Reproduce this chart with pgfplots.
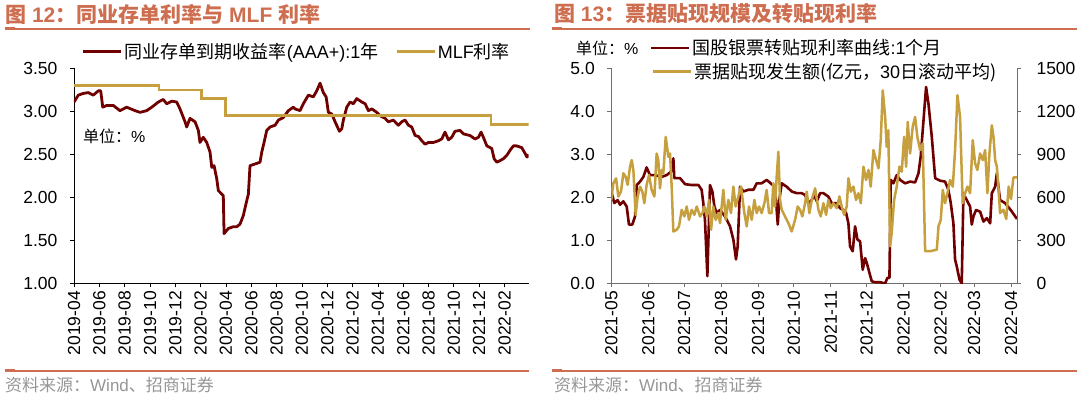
\documentclass[border=0pt]{standalone}
\usepackage{pgfplots}
\pgfplotsset{compat=1.18}
\usepackage{fontspec}
\setmainfont{Liberation Sans}
\newfontfamily\cjk{Noto Sans CJK SC}
\definecolor{dred}{RGB}{112,0,0}
\definecolor{gold}{RGB}{198,160,62}
\definecolor{ttl}{RGB}{206,110,80}
\definecolor{src}{RGB}{150,150,150}
\definecolor{axg}{RGB}{110,110,110}
\newcommand\fs[1]{\fontsize{#1pt}{#1pt}\selectfont}
\pgfplotsset{
  common/.style={
    scale only axis, anchor=south west, enlargelimits=false,
    tick align=outside, major tick length=4pt,
    /pgf/number format/assume math mode=true,
    ticklabel style={font=\fs{17.5}, text=black},
    legend image code/.code={\draw[##1] (0pt,0pt) -- (38pt,0pt);},
    legend style={draw=none, fill=none, inner sep=0pt, outer sep=0pt,
      font=\fs{18}, nodes={inner sep=2pt}, anchor=west},
  }
}
\begin{document}
\begin{tikzpicture}[x=1pt,y=1pt]
% ---------- headers / footers ----------
\node[anchor=west, inner sep=0, text=ttl, font=\fs{21}\bfseries] at (5,384)
  {{\cjk 图} 12{\cjk ：同业存单利率与} MLF {\cjk 利率}};
\draw[ttl, line width=1.2pt] (5,369) -- (530,369);
\draw[ttl, line width=3pt] (5,369) -- (15,369);
\draw[ttl, line width=1.2pt] (5,27) -- (528.6,27);
\draw[ttl, line width=3pt] (5,27) -- (15,27);
\node[anchor=west, inner sep=0, text=src, font=\fs{17}] at (5,13)
  {{\cjk 资料来源：}Wind{\cjk 、招商证券}};
\node[anchor=west, inner sep=0, text=ttl, font=\fs{21}\bfseries] at (553.8,384)
  {{\cjk 图} 13{\cjk ：票据贴现规模及转贴现利率}};
\draw[ttl, line width=1.2pt] (552,369) -- (1077,369);
\draw[ttl, line width=3pt] (552,369) -- (562,369);
\draw[ttl, line width=1.2pt] (552,27) -- (1077,27);
\draw[ttl, line width=3pt] (552,27) -- (562,27);
\node[anchor=west, inner sep=0, text=src, font=\fs{17}] at (553.8,13)
  {{\cjk 资料来源：}Wind{\cjk 、招商证券}};
\node[anchor=west, inner sep=0, font=\fs{16}] at (83,262) {{\cjk 单位：}\%};
\node[anchor=west, inner sep=0, font=\fs{16}] at (576,350) {{\cjk 单位：}\%};
% ---------- left chart ----------
\begin{axis}[common,
  at={(74pt,114.5pt)}, width=454.6pt, height=215pt,
  xmin=0, xmax=35.9, ymin=1, ymax=3.5,
  axis x line*=bottom, axis y line*=left,
  axis line style={black, line width=0.8pt}, tick style={black, line width=0.8pt},
  xtick={0,2,...,34},
  xticklabels={2019-04,2019-06,2019-08,2019-10,2019-12,2020-02,2020-04,2020-06,2020-08,2020-10,2020-12,2021-02,2021-04,2021-06,2021-08,2021-10,2021-12,2022-02},
  xticklabel style={rotate=90, anchor=east},
  ytick={1,1.5,...,3.5},
  yticklabel style={/pgf/number format/fixed, /pgf/number format/fixed zerofill, /pgf/number format/precision=2, xshift=-9pt},
  legend columns=2,
  legend style={at={(0.0176,1.078)}, /tikz/every even column/.append style={column sep=15pt}},
]
\addplot[dred, line width=2.8pt, line join=round] coordinates {
(0,3.11)(0.34,3.19)(0.73,3.21)(1.13,3.22)(1.52,3.19)(1.92,3.24)(2.11,3.24)(2.27,3.05)(2.58,3.07)(3.10,3.07)(3.63,3.01)(4.16,3.05)(4.82,3.01)(5.21,2.99)(5.74,3.01)(6.14,3.05)(6.66,3.11)(7.05,3.14)(7.32,3.09)(7.72,3.12)(8.11,3.11)(8.37,3.03)(8.77,2.88)(8.90,2.82)(9.16,2.92)(9.56,2.88)(9.82,2.78)(9.95,2.64)(10.21,2.70)(10.48,2.64)(10.74,2.53)(10.88,2.35)(11.06,2.37)(11.27,2.22)(11.40,2.08)(11.67,2.04)(11.79,2.02)(11.85,1.58)(12.19,1.64)(12.58,1.66)(12.85,1.66)(13.11,1.69)(13.37,1.79)(13.59,1.93)(13.77,2.04)(13.90,2.37)(14.30,2.39)(14.69,2.41)(14.83,2.53)(15.01,2.64)(15.22,2.78)(15.48,2.82)(15.88,2.84)(16.14,2.90)(16.53,2.93)(16.93,3.01)(17.32,3.05)(17.46,3.03)(17.85,3.01)(18.11,3.09)(18.51,3.19)(18.90,3.17)(19.17,3.24)(19.43,3.33)(19.69,3.22)(19.91,3.17)(20.09,2.99)(20.36,2.97)(20.62,2.88)(20.96,2.77)(21.15,2.80)(21.27,2.90)(21.54,3.05)(21.80,3.11)(22.06,3.09)(22.33,3.15)(22.73,3.11)(22.99,3.09)(23.25,3.01)(23.52,3.03)(23.91,2.99)(24.17,2.95)(24.57,2.92)(24.83,2.88)(25.22,2.90)(25.62,2.84)(25.88,2.88)(26.15,2.90)(26.41,2.84)(26.67,2.82)(26.94,2.72)(27.20,2.71)(27.46,2.66)(27.73,2.62)(27.99,2.64)(28.38,2.64)(28.78,2.66)(29.04,2.68)(29.30,2.76)(29.57,2.67)(29.83,2.70)(30.09,2.77)(30.49,2.78)(30.75,2.74)(31.28,2.72)(31.67,2.68)(31.94,2.70)(32.15,2.76)(32.33,2.70)(32.60,2.60)(32.99,2.57)(33.18,2.45)(33.39,2.41)(33.65,2.43)(33.91,2.45)(34.18,2.49)(34.44,2.55)(34.70,2.60)(34.95,2.60)(35.36,2.58)(35.63,2.51)(35.77,2.47)(35.9,2.50)};
\addlegendentry{{\cjk 同业存单到期收益率}(AAA+):1{\cjk 年}}
\addplot[gold, line width=2.6pt, const plot] coordinates {
(0,3.30)(6.71,3.25)(10.05,3.15)(11.95,2.95)(32.92,2.85)(35.9,2.85)};
\addlegendentry{MLF{\cjk 利率}}
\end{axis}
% ---------- right chart: rate ----------
\begin{axis}[common,
  at={(611.3pt,114.5pt)}, width=405.7pt, height=215pt,
  xmin=0, xmax=340, ymin=0, ymax=5,
  axis x line*=bottom, axis y line*=left,
  axis line style={axg, line width=0.8pt}, tick style={axg, line width=0.8pt},
  xtick={0,31,61,92,123,153,184,214,245,276,304,335},
  xticklabels={2021-05,2021-06,2021-07,2021-08,2021-09,2021-10,2021-11,2021-12,2022-01,2022-02,2022-03,2022-04},
  xticklabel style={rotate=90, anchor=east},
  ytick={0,1,...,5},
  yticklabel style={/pgf/number format/fixed, /pgf/number format/fixed zerofill, /pgf/number format/precision=1, xshift=-9pt},
  legend style={at={(0.0954,1.0953)}},
]
\addplot[dred, line width=2.6pt, line join=round] coordinates {
(0,2.14)(2.5,1.87)(5.3,1.94)(7.3,1.83)(10.1,1.91)(12.9,1.79)(14.8,1.37)(17.6,1.37)(19.9,1.56)(21.3,2.29)(24.1,2.37)(26.9,2.48)(29.6,2.70)(32.4,2.52)(36.6,2.52)(42.2,2.48)(46.4,2.52)(50.0,2.60)(52.0,2.91)(52.8,2.45)(57.6,2.45)(61.8,2.31)(67.4,2.29)(73.0,2.29)(75.7,2.18)(77.1,1.87)(78.5,1.48)(80.5,0.17)(82.7,2.29)(84.7,2.14)(86.4,1.79)(88.3,1.64)(91.1,1.71)(95.3,1.56)(99.5,1.33)(102.3,1.02)(104.5,0.56)(105.9,0.86)(107.9,2.25)(110.7,2.14)(114.9,2.18)(119.1,2.18)(121.9,2.33)(126.0,2.33)(130.2,2.41)(134.4,2.31)(137.2,2.25)(139.5,1.37)(140.8,1.94)(142.8,2.33)(147.0,2.25)(151.2,2.14)(155.4,2.10)(159.6,2.10)(162.4,2.06)(165.2,1.87)(168.0,1.94)(169.9,2.06)(172.2,1.91)(175.0,2.10)(177.8,2.10)(181.9,2.02)(184.7,1.87)(188.9,1.87)(191.7,1.75)(194.5,1.71)(196.8,1.64)(198.7,1.40)(200.1,0.86)(202.3,0.75)(204.3,1.33)(206.3,1.02)(208.5,0.98)(210.7,0.32)(212.7,0.59)(214.1,0.48)(216.3,0.25)(218.3,0.05)(221.1,0.03)(225.3,0.03)(229.4,0.0)(231.4,0.13)(233.1,0.13)(234.2,2.41)(236.4,2.33)(239.2,2.52)(242.0,2.41)(246.2,2.33)(250.4,2.37)(254.6,2.35)(257.4,2.56)(259.3,2.95)(263.8,4.57)(265.8,4.18)(268.6,3.41)(271.4,2.45)(275.6,2.39)(279.7,2.37)(282.5,2.18)(284.5,1.87)(286.7,1.40)(288.1,0.56)(289.5,0.40)(291.8,0.09)(293.7,0.0)(295.1,2.10)(297.9,1.94)(300.7,1.79)(302.1,1.37)(303.5,1.56)(305.7,1.71)(309.1,1.67)(311.9,1.44)(314.7,1.52)(317.5,1.40)(318.9,2.10)(321.7,2.25)(323.1,2.56)(325.8,1.94)(330.0,1.87)(335.0,1.70)(340,1.50)};
\addlegendentry{{\cjk 国股银票转贴现利率曲线}:1{\cjk 个月}}
\end{axis}
% ---------- right chart: volume ----------
\begin{axis}[common,
  at={(611.3pt,114.5pt)}, width=405.7pt, height=215pt,
  xmin=0, xmax=340, ymin=0, ymax=1500,
  axis x line=none, axis y line*=right,
  axis line style={axg, line width=0.8pt}, tick style={axg, line width=0.8pt},
  ytick={0,300,...,1500},
  yticklabel style={/pgf/number format/1000 sep={}},
  y tick label style={xshift=12pt},
  legend style={at={(0.0993,0.985)}},
]
\addplot[gold, line width=2.5pt, line join=round] coordinates {
(0,583)(1.7,699)(4.0,734)(5.9,607)(8.1,641)(10.1,769)(12.0,745)(13.7,688)(15.7,815)(17.1,861)(18.5,792)(20.4,479)(22.1,607)(24.1,676)(26.0,641)(27.7,560)(29.6,688)(31.6,757)(33.8,653)(36.1,607)(38.0,907)(39.4,861)(40.8,664)(42.2,792)(43.6,769)(45.6,1023)(47.8,884)(49.2,907)(50.6,676)(52.0,363)(54.8,375)(56.7,398)(59.0,514)(61.2,468)(63.2,537)(65.1,444)(67.4,514)(69.6,479)(71.6,537)(74.4,468)(76.3,491)(78.0,537)(80.0,468)(81.9,583)(83.6,375)(85.5,537)(87.5,444)(89.7,491)(91.1,421)(93.9,653)(95.9,444)(98.1,583)(100.3,491)(102.3,676)(104.2,537)(106.5,607)(108.7,676)(111.5,491)(113.5,398)(115.4,537)(117.7,444)(119.9,583)(121.9,491)(123.8,537)(126.0,491)(128.3,560)(130.2,653)(132.2,491)(134.4,491)(135.8,699)(137.2,537)(138.6,745)(140.0,919)(141.4,583)(142.8,514)(145.6,468)(148.4,421)(151.2,363)(154.0,444)(156.2,537)(158.2,514)(160.1,468)(162.4,560)(163.8,641)(166.0,491)(168.0,583)(170.8,664)(173.6,514)(175.5,468)(177.8,560)(180.0,479)(181.9,583)(183.9,526)(186.1,560)(188.9,526)(191.2,607)(193.1,537)(195.1,479)(197.3,537)(198.7,734)(200.7,641)(202.9,676)(205.1,583)(207.1,630)(209.1,560)(211.3,815)(213.5,722)(215.5,792)(217.4,676)(219.7,931)(221.9,861)(223.9,803)(225.8,1000)(227.5,1347)(229.5,1162)(230.8,954)(232.2,1069)(233.6,259)(235.0,352)(237.0,583)(239.2,676)(241.5,815)(243.4,780)(245.4,1023)(247.1,815)(248.4,1127)(250.4,907)(252.6,1093)(254.6,1162)(256.5,1023)(258.8,931)(261.0,977)(263.0,225)(267.2,225)(272.8,236)(274.2,398)(276.1,444)(277.8,653)(279.7,560)(281.7,630)(283.9,722)(286.2,676)(288.1,931)(290.1,1313)(292.3,1162)(293.7,769)(294.5,560)(296.5,630)(298.5,676)(300.7,630)(302.9,1000)(304.9,838)(306.8,792)(309.1,907)(311.3,861)(313.3,931)(315.2,630)(316.9,907)(318.9,1104)(320.3,1023)(321.7,861)(323.1,815)(324.4,676)(325.8,491)(328.6,514)(331.0,450)(333.0,676)(335.0,590)(337.0,740)(340,740)};
\addlegendentry{{\cjk 票据贴现发生额(亿元，}30{\cjk 日滚动平均)}}
\end{axis}
\useasboundingbox (0,0) rectangle (1080,398);
\end{tikzpicture}
\end{document}
